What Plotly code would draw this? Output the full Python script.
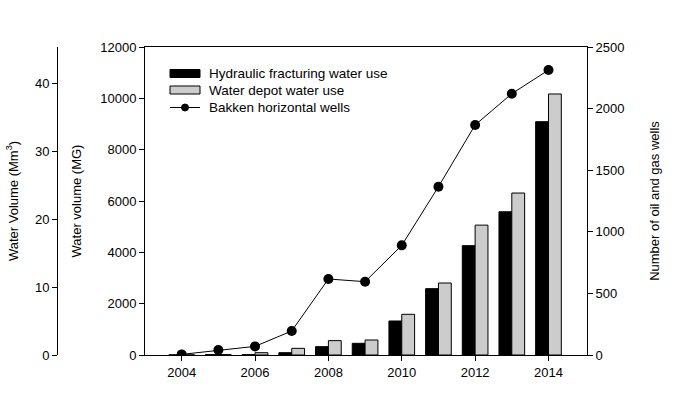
import plotly.graph_objects as go

years = [2004, 2005, 2006, 2007, 2008, 2009, 2010, 2011, 2012, 2013, 2014]
frac_mg = [5, 20, 15, 90, 325, 455, 1325, 2585, 4260, 5580, 9090]
depot_mg = [5, 15, 90, 260, 560, 585, 1585, 2805, 5060, 6310, 10170]
wells = [5, 40, 70, 195, 617, 595, 890, 1366, 1867, 2121, 2313]
series_names = ["Hydraulic fracturing water use", "Water depot water use", "Bakken horizontal wells"]
x_ticks = [2004, 2006, 2008, 2010, 2012, 2014]

MG_TO_MM3 = 0.003785412
mg_max = 12000

W, H = 700, 396
def px_x(p):
    return p / W
def px_y(p):
    return 1 - p / H

font = dict(family="Liberation Sans, Arial, sans-serif", size=13, color="black")

fig = go.Figure()
fig.add_trace(go.Bar(x=years, y=frac_mg, name=series_names[0], showlegend=False,
                     marker=dict(color="black", line=dict(color="black", width=1)),
                     width=0.35, offset=-0.35))
fig.add_trace(go.Bar(x=years, y=depot_mg, name=series_names[1], showlegend=False,
                     marker=dict(color="#cccccc", line=dict(color="black", width=1)),
                     width=0.35, offset=0))
fig.add_trace(go.Scatter(x=years, y=wells, name=series_names[2], yaxis="y2", showlegend=False,
                         mode="lines+markers", line=dict(color="black", width=1),
                         marker=dict(color="black", size=10)))
# invisible trace to activate the outer axis
fig.add_trace(go.Scatter(x=[years[0]], y=[0], yaxis="y3", mode="markers",
                         marker=dict(opacity=0), showlegend=False, hoverinfo="skip"))

axis_common = dict(showline=True, linecolor="black", linewidth=1, ticks="outside",
                   ticklen=5, tickcolor="black", showgrid=False, zeroline=False,
                   tickfont=font, automargin=False)

# manual legend (paper coordinates)
leg_rows = [73.5, 90, 107.5]
shapes = []
annotations = []
shapes.append(dict(type="rect", xref="paper", yref="paper",
                   x0=px_x(170), x1=px_x(200), y0=px_y(leg_rows[0] + 4), y1=px_y(leg_rows[0] - 4),
                   fillcolor="black", line=dict(color="black", width=1)))
shapes.append(dict(type="rect", xref="paper", yref="paper",
                   x0=px_x(170), x1=px_x(200), y0=px_y(leg_rows[1] + 4), y1=px_y(leg_rows[1] - 4),
                   fillcolor="#cccccc", line=dict(color="black", width=1)))
shapes.append(dict(type="line", xref="paper", yref="paper",
                   x0=px_x(170), x1=px_x(200), y0=px_y(leg_rows[2]), y1=px_y(leg_rows[2]),
                   line=dict(color="black", width=1)))
shapes.append(dict(type="circle", xref="paper", yref="paper",
                   x0=px_x(181.5), x1=px_x(188.5), y0=px_y(leg_rows[2] + 3.5), y1=px_y(leg_rows[2] - 3.5),
                   fillcolor="black", line=dict(color="black", width=1)))
for name, row in zip(series_names, leg_rows):
    annotations.append(dict(text=name, xref="paper", yref="paper", x=px_x(207), y=px_y(row),
                            xanchor="left", yanchor="middle", showarrow=False,
                            font=dict(family=font["family"], size=13.5, color="black")))

fig.update_layout(
    width=W, height=H,
    margin=dict(l=0, r=0, t=0, b=0, autoexpand=False),
    paper_bgcolor="white", plot_bgcolor="white",
    font=font,
    showlegend=False,
    shapes=shapes,
    annotations=annotations,
    xaxis=dict(domain=[px_x(145), px_x(587)], range=[2003, 2015.05],
               tickvals=x_ticks, mirror=True, **axis_common),
    yaxis=dict(range=[0, mg_max], dtick=2000, anchor="x", tickformat="d",
               title=dict(text="Water volume (MG)", font=font, standoff=15),
               domain=[px_y(355), px_y(47)], **axis_common),
    yaxis2=dict(range=[0, 2500], dtick=500, overlaying="y", side="right", anchor="x",
                tickformat="d",
                title=dict(text="Number of oil and gas wells", font=font, standoff=26),
                **axis_common),
    yaxis3=dict(range=[0, mg_max * MG_TO_MM3], dtick=10, overlaying="y", side="left",
                anchor="free", position=px_x(57),
                title=dict(text="Water Volume (Mm<sup>3</sup>)", font=font, standoff=12),
                **axis_common),
)

fig.write_html("out.html", config={"displayModeBar": False},
               post_script="document.body.style.margin='0';")
